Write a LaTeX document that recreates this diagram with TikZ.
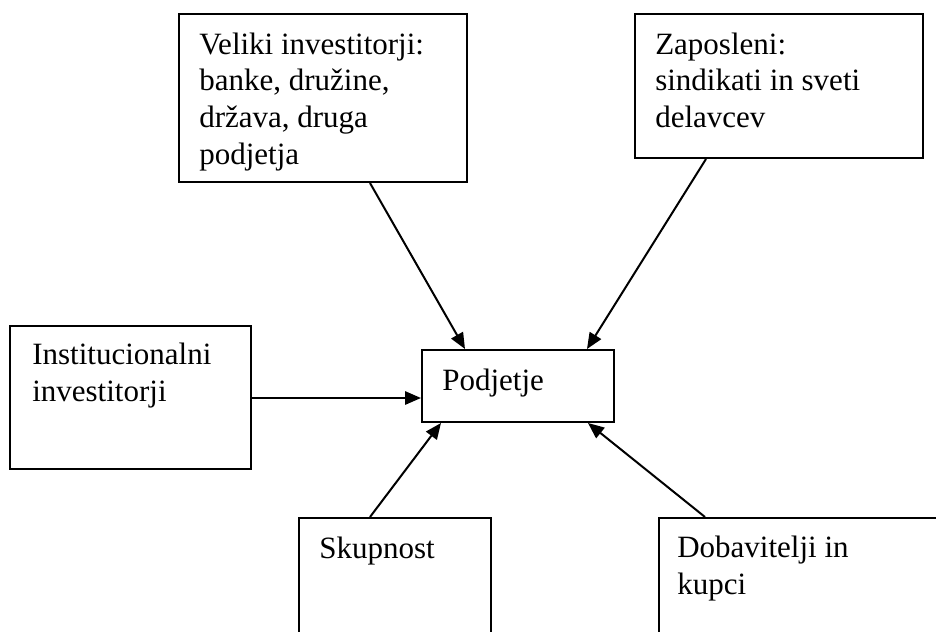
\documentclass[tikz,border=0pt]{standalone}
\usepackage{fontspec}
\setmainfont{Liberation Serif}
\usetikzlibrary{arrows.meta}
\begin{document}
\begin{tikzpicture}[x=0.75pt,y=-0.75pt,
  box/.style={draw, line width=1.5pt, inner sep=0pt, anchor=north west},
  % anchored at the baseline of the last line of text
  boxtext/.style={inner sep=0pt, anchor=base west, align=left,
    font=\fontsize{23.25pt}{27.5pt}\selectfont},
  conn/.style={line width=1.5pt, -{Triangle[length=12pt,width=10pt]}}]
\useasboundingbox (0,0) rectangle (936,632);
\clip (0,0) rectangle (936,632);

% stakeholder boxes
\node[box, minimum width=216pt, minimum height=126pt] (b1) at (178,13) {};
\node[box, minimum width=216pt, minimum height=108pt] (b2) at (634,13) {};
\node[box, minimum width=180.75pt, minimum height=107.25pt] (b3) at (9,325) {};
\node[box, minimum width=144pt, minimum height=54pt] (b4) at (421,349) {};
\node[box, minimum width=144pt, minimum height=105pt] (b5) at (298,517) {};
\node[box, minimum width=225pt, minimum height=105pt] (b6) at (658,517) {};

% box texts
\node[boxtext] (t1) at (199,164) {Veliki investitorji:\\banke, družine,\\država, druga\\podjetja};
\node[boxtext] (t2) at (655,127.5) {Zaposleni:\\sindikati in sveti\\delavcev};
\node[boxtext] (t3) at (32,401.5) {Institucionalni\\investitorji};
\node[boxtext] (t4) at (442,390) {Podjetje};
\node[boxtext] (t5) at (319,558) {Skupnost};
\node[boxtext] (t6) at (677,594.5) {Dobavitelji in\\kupci};

% influences on the company
\draw[conn] (370,0 |- b1.south) -- (465,0 |- b4.north);
\draw[conn] (706,0 |- b2.south) -- (587,0 |- b4.north);
\draw[conn] (b3.east |- 0,398) -- (b4.west |- 0,398);
\draw[conn] (370,0 |- b5.north) -- (441,0 |- b4.south);
\draw[conn] (705,0 |- b6.north) -- (588,0 |- b4.south);
\end{tikzpicture}
\end{document}
